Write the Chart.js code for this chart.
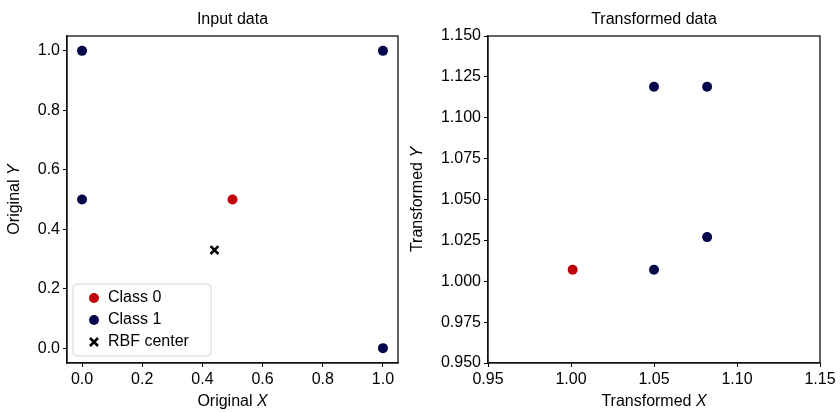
<!DOCTYPE html>
<html>
<head>
<meta charset="utf-8">
<script src="https://cdn.jsdelivr.net/npm/chart.js@4.4.0/dist/chart.umd.min.js"></script>
<style>
  html, body { margin: 0; padding: 0; background: #fff; }
  #wrap { position: relative; width: 840px; height: 412px; }
  #left { position: absolute; left: 0; top: 0; }
  #right { position: absolute; left: 405px; top: 0; }
</style>
</head>
<body>
<div id="wrap">
  <canvas id="left" width="410" height="412"></canvas>
  <canvas id="right" width="435" height="412"></canvas>
</div>
<script>
// input data
const class0X = [0.5];
const class0Y = [0.5];
const class1X = [0, 1, 0, 1];
const class1Y = [1, 1, 0.5, 0];
const centerX = [0.44];
const centerY = [0.33];

// transformed data
const transClass0X = [1.001];
const transClass0Y = [1.007];
const transClass1X = [1.05, 1.082, 1.05, 1.082];
const transClass1Y = [1.119, 1.119, 1.007, 1.027];

// ticks
const leftTicks = [0, 0.2, 0.4, 0.6, 0.8, 1.0];
const rightXTicks = [0.95, 1.0, 1.05, 1.1, 1.15];
const rightYTicks = [0.95, 0.975, 1.0, 1.025, 1.05, 1.075, 1.1, 1.125, 1.15];

const RED = '#c00008';
const NAVY = '#06064b';
const FONT = 'Liberation Sans, Arial, sans-serif';
const FS = 16;

Chart.defaults.font.family = FONT;
Chart.defaults.color = '#000';

const toPoints = (xs, ys) => xs.map((x, i) => ({ x: x, y: ys[i] }));

// draws "Original " + italic "X"
function drawRichText(ctx, plain, ital, x, y, rotate) {
  ctx.save();
  ctx.translate(x, y);
  if (rotate) ctx.rotate(-Math.PI / 2);
  ctx.fillStyle = '#000';
  ctx.textBaseline = 'middle';
  ctx.font = FS + 'px ' + FONT;
  const w1 = ctx.measureText(plain).width;
  ctx.font = 'italic ' + FS + 'px ' + FONT;
  const w2 = ctx.measureText(ital).width;
  let start = -(w1 + w2) / 2;
  ctx.font = FS + 'px ' + FONT;
  ctx.textAlign = 'left';
  ctx.fillText(plain, start, 0);
  ctx.font = 'italic ' + FS + 'px ' + FONT;
  ctx.fillText(ital, start + w1, 0);
  ctx.restore();
}

const decorPlugin = {
  id: 'decor',
  afterDraw(chart, args, opts) {
    const ctx = chart.ctx;
    const a = chart.chartArea;
    // box frame
    ctx.save();
    ctx.strokeStyle = '#111';
    ctx.lineWidth = 1.3;
    ctx.strokeRect(a.left, a.top, a.right - a.left, a.bottom - a.top);
    // title
    ctx.fillStyle = '#000';
    ctx.font = FS + 'px ' + FONT;
    ctx.textAlign = 'center';
    ctx.textBaseline = 'middle';
    ctx.fillText(opts.title, (a.left + a.right) / 2, 20);
    ctx.restore();
    drawRichText(ctx, opts.xTitle[0], opts.xTitle[1], (a.left + a.right) / 2, 402, false);
    drawRichText(ctx, opts.yTitle[0], opts.yTitle[1], opts.yTitleX, (a.top + a.bottom) / 2, true);

    if (opts.legend) {
      const L = opts.legend;
      ctx.save();
      ctx.fillStyle = 'rgba(255,255,255,0.85)';
      ctx.strokeStyle = '#d4d4d4';
      ctx.lineWidth = 1;
      ctx.beginPath();
      ctx.roundRect(L.x, L.y, L.w, L.h, 4);
      ctx.fill();
      ctx.stroke();
      chart.data.datasets.forEach((ds, i) => {
        const cy = L.y + 14 + i * 22;
        const cx = L.x + 21;
        if (ds.pointStyle === 'crossRot') {
          ctx.strokeStyle = ds.borderColor;
          ctx.lineWidth = 2.5;
          ctx.beginPath();
          ctx.moveTo(cx - 4, cy - 4); ctx.lineTo(cx + 4, cy + 4);
          ctx.moveTo(cx + 4, cy - 4); ctx.lineTo(cx - 4, cy + 4);
          ctx.stroke();
        } else {
          ctx.fillStyle = ds.backgroundColor;
          ctx.beginPath();
          ctx.arc(cx, cy, 5, 0, Math.PI * 2);
          ctx.fill();
        }
        ctx.fillStyle = '#000';
        ctx.font = FS + 'px ' + FONT;
        ctx.textAlign = 'left';
        ctx.textBaseline = 'middle';
        ctx.fillText(ds.label, L.x + 35, cy);
      });
      ctx.restore();
    }
  }
};

function makeAxis(min, max, tickVals, digits, fitProp, fitSize) {
  return {
    type: 'linear',
    min: min,
    max: max,
    afterBuildTicks: (s) => { s.ticks = tickVals.map(v => ({ value: v })); },
    afterFit: (s) => { s[fitProp] = fitSize; },
    ticks: {
      callback: (v) => Number(v).toFixed(digits),
      font: { size: FS },
      color: '#000',
      padding: 3,
      autoSkip: false,
      maxRotation: 0
    },
    grid: { drawOnChartArea: false, drawTicks: true, tickLength: 4, color: '#000', tickWidth: 1 },
    border: { display: true, color: '#111', width: 1.3 }
  };
}

function scatterSet(label, pts, color, style) {
  return {
    label: label,
    data: pts,
    backgroundColor: color,
    borderColor: color,
    pointStyle: style || 'circle',
    pointRadius: style === 'crossRot' ? 5.6 : 5,
    pointBorderWidth: style === 'crossRot' ? 2.5 : 0,
    pointHoverRadius: 5
  };
}

new Chart(document.getElementById('left'), {
  type: 'scatter',
  data: {
    datasets: [
      scatterSet('Class 0', toPoints(class0X, class0Y), RED),
      scatterSet('Class 1', toPoints(class1X, class1Y), NAVY),
      scatterSet('RBF center', toPoints(centerX, centerY), '#000', 'crossRot')
    ]
  },
  options: {
    responsive: false,
    animation: false,
    layout: { padding: { left: 0, right: 12, top: 36, bottom: 0 } },
    scales: {
      x: makeAxis(-0.05, 1.05, leftTicks, 1, 'height', 49),
      y: makeAxis(-0.05, 1.05, leftTicks, 1, 'width', 67)
    },
    plugins: {
      legend: { display: false },
      tooltip: { enabled: false },
      decor: {
        title: 'Input data',
        xTitle: ['Original ', 'X'],
        yTitle: ['Original ', 'Y'],
        yTitleX: 15,
        legend: { x: 73, y: 284, w: 138, h: 72 }
      }
    }
  },
  plugins: [decorPlugin]
});

new Chart(document.getElementById('right'), {
  type: 'scatter',
  data: {
    datasets: [
      scatterSet('Class 0', toPoints(transClass0X, transClass0Y), RED),
      scatterSet('Class 1', toPoints(transClass1X, transClass1Y), NAVY)
    ]
  },
  options: {
    responsive: false,
    animation: false,
    layout: { padding: { left: 0, right: 20, top: 36, bottom: 0 } },
    scales: {
      x: makeAxis(0.95, 1.15, rightXTicks, 2, 'height', 49),
      y: makeAxis(0.95, 1.15, rightYTicks, 3, 'width', 83)
    },
    plugins: {
      legend: { display: false },
      tooltip: { enabled: false },
      decor: {
        title: 'Transformed data',
        xTitle: ['Transformed ', 'X'],
        yTitle: ['Transformed ', 'Y'],
        yTitleX: 13
      }
    }
  },
  plugins: [decorPlugin]
});
</script>
</body>
</html>
